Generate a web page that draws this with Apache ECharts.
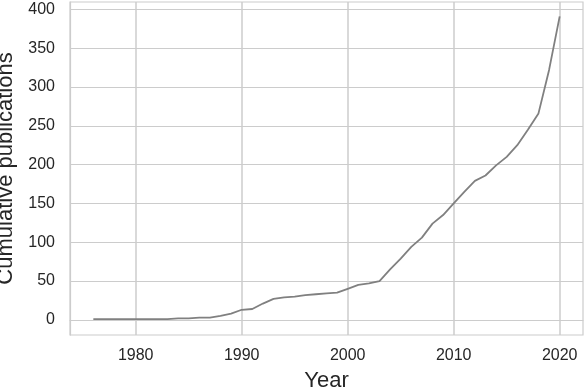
<!DOCTYPE html>
<html>
<head>
<meta charset="utf-8">
<script src="https://cdn.jsdelivr.net/npm/echarts@6/dist/echarts.min.js"></script>
<style>
  html, body { margin: 0; padding: 0; background: #fff; }
  #chart { width: 586px; height: 388px; }
</style>
</head>
<body>
<div id="chart"></div>
<script>
// data
const years = [1976, 1977, 1978, 1979, 1980, 1981, 1982, 1983, 1984, 1985,
               1986, 1987, 1988, 1989, 1990, 1991, 1992, 1993, 1994, 1995,
               1996, 1997, 1998, 1999, 2000, 2001, 2002, 2003, 2004, 2005,
               2006, 2007, 2008, 2009, 2010, 2011, 2012, 2013, 2014, 2015,
               2016, 2017, 2018, 2019, 2020];
const cumulative = [1, 1, 1, 1, 1, 1, 1, 1, 2, 2,
                    3, 3, 5, 8, 13, 14, 21, 27, 29, 30,
                    32, 33, 34, 35, 40, 45, 47, 50, 65, 79,
                    94, 106, 124, 135, 150, 165, 179, 186, 199, 210,
                    225, 245, 266, 322, 391];
const xTicks = [1980, 1990, 2000, 2010, 2020];
const yTicks = [0, 50, 100, 150, 200, 250, 300, 350, 400];

let myChart = echarts.init(document.getElementById('chart'));
let font = 'Liberation Sans, Arial, sans-serif';
let gridColor = '#cccccc';

myChart.setOption({
  animation: false,
  grid: {
    left: 70, right: 3, top: 2, bottom: 53,
    outerBoundsMode: 'none',
    containLabel: false,
    show: true, borderColor: gridColor, borderWidth: 1.2
  },
  xAxis: {
    type: 'value',
    min: 1973.8,
    max: 2022.2,
    name: 'Year',
    nameLocation: 'middle',
    nameGap: 35,
    nameTextStyle: { fontFamily: font, fontSize: 22, color: '#262626' },
    axisLine: { show: true, lineStyle: { color: gridColor, width: 1.2 } },
    axisTick: { show: false, customValues: xTicks },
    axisLabel: {
      customValues: xTicks, margin: 13,
      fontFamily: font, fontSize: 16, color: '#262626',
      formatter: v => String(v)
    },
    splitLine: { show: true, lineStyle: { color: gridColor, width: 1.5 } }
  },
  yAxis: {
    type: 'value',
    min: -19.5,
    max: 409.5,
    name: 'Cumulative publications',
    nameLocation: 'middle',
    nameGap: 50,
    nameTextStyle: { fontFamily: font, fontSize: 22, color: '#262626' },
    axisLine: { show: true, lineStyle: { color: gridColor, width: 1.2 } },
    axisTick: { show: false, customValues: yTicks },
    axisLabel: {
      customValues: yTicks, margin: 15,
      fontFamily: font, fontSize: 16, color: '#262626'
    },
    splitLine: { show: true, lineStyle: { color: gridColor, width: 1.2 } }
  },
  series: [{
    type: 'line',
    data: years.map((y, i) => [y, cumulative[i]]),
    showSymbol: false,
    lineStyle: { color: '#808080', width: 1.8 }
  }]
});
</script>
</body>
</html>
